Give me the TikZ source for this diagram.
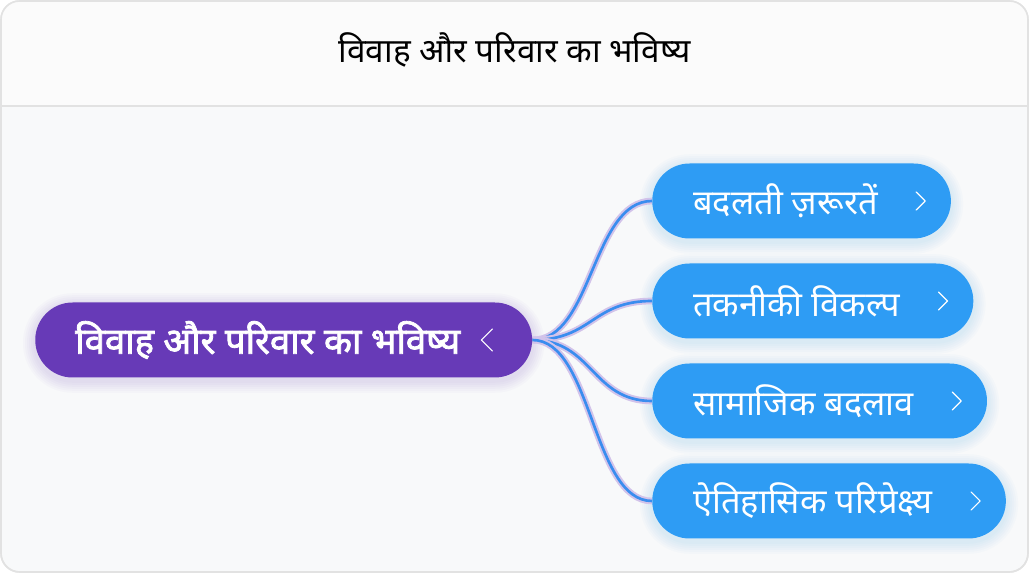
\documentclass[tikz,border=0pt]{standalone}
\usepackage{fontspec}
\newfontfamily\deva[Script=Devanagari]{Noto Sans}
\newfontfamily\devabold[Script=Devanagari,FakeBold=2.2]{Noto Sans}
\usetikzlibrary{positioning,calc}
\pgfdeclarelayer{background}
\pgfsetlayers{background,main}
\definecolor{framegray}{HTML}{E2E2E2}
\definecolor{pagebg}{HTML}{F8F9FA}
\definecolor{headbg}{HTML}{FBFBFB}
\definecolor{rootpurple}{HTML}{673AB7}
\definecolor{leafblue}{HTML}{2E9CF4}
\definecolor{linkblue}{HTML}{3A8DEF}
\definecolor{linkhalo}{HTML}{D2C3EA}
\tikzset{
	rootnode/.style={rectangle,rounded corners=28pt,fill=rootpurple,text=white,
		minimum height=56.25pt,inner xsep=30pt,inner ysep=0pt,anchor=west,
		font=\devabold\fontsize{27.3}{30}\selectfont},
	leafnode/.style={rectangle,rounded corners=28pt,fill=leafblue,text=white,
		minimum height=56.25pt,inner xsep=30.75pt,inner ysep=0pt,anchor=west,
		font=\deva\fontsize{25.8}{30}\selectfont},
	halo/.style={linkhalo,line width=5pt},
	link/.style={linkblue,line width=2pt},
	chevron/.style={white,line width=0.9pt,line cap=round,line join=round}
}
% soft glow behind a pill node: #1 node, #2 colour
\newcommand{\pillglow}[2]{
	\begin{pgfonlayer}{background}
		\foreach \r in {2,4,...,12}{
			\fill[#2,opacity=0.022,rounded corners=28pt+0.75*\r pt]
				($(#1.south west)+(-\r,\r+3)$) rectangle ($(#1.north east)+(\r,-\r+3)$);
		}
	\end{pgfonlayer}
}
\begin{document}
\begin{tikzpicture}[x=0.75pt,y=-0.75pt]
	\useasboundingbox (0,0) rectangle (1029,573);
	% frame and header
	\begin{pgfonlayer}{background}
		\draw[framegray,fill=pagebg,line width=1.2pt,rounded corners=14pt] (1,1) rectangle (1028,572);
		\begin{scope}
			\clip[rounded corners=14pt] (1,1) rectangle (1028,572);
			\fill[headbg] (1,1) rectangle (1028,106);
		\end{scope}
		\draw[framegray,line width=1.2pt,rounded corners=14pt] (1,1) rectangle (1028,572);
		\draw[framegray,line width=1.2pt] (1,106) -- (1028,106);
	\end{pgfonlayer}
	\node (title) at (515,50) {\deva\fontsize{25}{28}\selectfont विवाह और परिवार का भविष्य};

	% nodes
	\node[rootnode] (root) at (35,340) {विवाह और परिवार का भविष्य\hspace*{24pt}};
	\node[leafnode] (needs) at (652,201) {बदलती ज़रूरतें\hspace*{24pt}};
	\node[leafnode] (tech) at (652,301) {तकनीकी विकल्प\hspace*{24pt}};
	\node[leafnode] (social) at (652,401) {सामाजिक बदलाव\hspace*{24pt}};
	\node[leafnode] (history) at (652,501) {ऐतिहासिक परिप्रेक्ष्य\hspace*{24pt}};

	\pillglow{root}{rootpurple}
	\foreach \leaf in {needs,tech,social,history}{
		\pillglow{\leaf}{leafblue}
	}

	% connectors
	\begin{pgfonlayer}{background}
	\foreach \leaf in {needs,tech,social,history}{
		\draw[halo] (root.east) .. controls +(60,0) and +(-60,0) .. (\leaf.west);
		\draw[link] (root.east) .. controls +(60,0) and +(-60,0) .. (\leaf.west);
	}
	\end{pgfonlayer}

	% chevrons
	\draw[chevron] (root.east) ++(-40,-11) -- ++(-11,11) -- ++(11,11);
	\foreach \leaf in {needs,tech,social,history}{
		\draw[chevron] (\leaf.east) ++(-35,-9) -- ++(9,9) -- ++(-9,9);
	}
\end{tikzpicture}
\end{document}
